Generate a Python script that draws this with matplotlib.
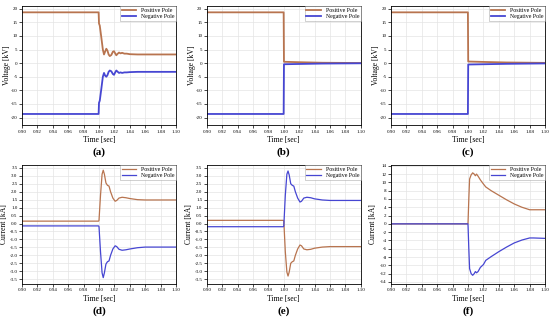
import matplotlib
matplotlib.use("Agg")
from matplotlib import pyplot as plt
import numpy as np

plt.rcParams["font.family"] = ["Liberation Serif", "DejaVu Serif"]

POS_COLOR = "#b8744f"
NEG_COLOR = "#4646d2"

# (a) voltage, pole-to-pole fault with recovery
t_a = [0.90, 0.9995, 1.0, 1.001, 1.003, 1.005, 1.0065, 1.008, 1.0095, 1.011, 1.0125,
       1.014, 1.016, 1.018, 1.0195, 1.021, 1.0225, 1.024, 1.026, 1.028, 1.030, 1.033,
       1.036, 1.040, 1.050, 1.10]
pos_a = [18.7, 18.7, 14.6, 13.8, 9.5, 5.0, 3.2, 4.3, 5.3, 4.6, 3.2,
         2.6, 3.0, 4.2, 4.4, 3.6, 2.9, 3.4, 3.9, 3.6, 3.8, 3.5,
         3.5, 3.3, 3.2, 3.2]
neg_a = [-18.7, -18.7, -14.6, -13.8, -9.5, -5.0, -3.6, -4.6, -5.0, -4.4, -3.2,
         -2.7, -3.0, -4.0, -4.3, -3.4, -2.7, -3.1, -3.6, -3.4, -3.6, -3.4,
         -3.4, -3.3, -3.2, -3.2]

# (b) voltage
t_b = [0.90, 0.9998, 1.0002, 1.02, 1.05, 1.10]
pos_b = [18.7, 18.7, 0.5, 0.35, 0.15, 0.05]
neg_b = [-18.7, -18.7, -0.4, -0.3, -0.15, -0.05]

# (c) voltage
t_c = [0.90, 0.9998, 1.0002, 1.02, 1.05, 1.10]
pos_c = [18.7, 18.7, 0.6, 0.45, 0.25, 0.1]
neg_c = [-18.7, -18.7, -0.5, -0.4, -0.25, -0.1]

# (d) current
t_d = [0.90, 0.9995, 1.0, 1.002, 1.004, 1.0055, 1.007, 1.009, 1.011, 1.013, 1.015,
       1.018, 1.021, 1.023, 1.026, 1.030, 1.035, 1.040, 1.050, 1.060, 1.10]
pos_d = [0.15, 0.15, 0.2, 1.8, 3.1, 3.35, 3.1, 2.55, 2.4, 2.35, 2.0,
         1.6, 1.4, 1.45, 1.6, 1.65, 1.62, 1.57, 1.5, 1.48, 1.48]
neg_d = [-0.15, -0.15, -0.2, -1.8, -3.1, -3.4, -3.1, -2.55, -2.4, -2.35, -2.0,
         -1.6, -1.4, -1.45, -1.62, -1.68, -1.65, -1.6, -1.52, -1.48, -1.48]

# (e) current
t_e = [0.90, 0.9995, 1.0, 1.002, 1.004, 1.0055, 1.007, 1.009, 1.011, 1.013, 1.015,
       1.018, 1.021, 1.023, 1.026, 1.030, 1.035, 1.040, 1.050, 1.060, 1.10]
pos_e = [0.2, 0.2, 0.15, -1.8, -3.05, -3.3, -3.05, -2.5, -2.4, -2.35, -2.0,
         -1.6, -1.35, -1.4, -1.6, -1.65, -1.62, -1.55, -1.48, -1.45, -1.45]
neg_e = [-0.2, -0.2, -0.15, 1.8, 3.1, 3.3, 3.05, 2.5, 2.4, 2.35, 2.0,
         1.6, 1.35, 1.4, 1.6, 1.65, 1.62, 1.55, 1.48, 1.45, 1.45]

# (f) current
t_f = [0.90, 0.9998, 1.0, 1.001, 1.002, 1.004, 1.006, 1.008, 1.0095, 1.011, 1.013,
       1.016, 1.020, 1.023, 1.030, 1.040, 1.050, 1.060, 1.070, 1.080, 1.085, 1.10]
pos_f = [0.0, 0.0, 0.5, 6.0, 10.8, 11.8, 12.3, 12.0, 11.6, 12.0, 11.5,
         10.6, 9.6, 8.9, 8.0, 6.9, 5.8, 4.8, 4.0, 3.4, 3.4, 3.4]
neg_f = [0.0, 0.0, -0.5, -6.0, -10.8, -12.0, -12.4, -12.0, -11.5, -11.8, -11.5,
         -10.5, -9.8, -8.8, -7.9, -6.7, -5.6, -4.6, -3.9, -3.4, -3.4, -3.5]

panels = [
    ("(a)", t_a, pos_a, neg_a, "Voltage [kV]", (-22.8, 21.0), np.arange(-20, 21, 5), 1.3),
    ("(b)", t_b, pos_b, neg_b, "Voltage [kV]", (-22.8, 21.0), np.arange(-20, 21, 5), 1.3),
    ("(c)", t_c, pos_c, neg_c, "Voltage [kV]", (-22.8, 21.0), np.arange(-20, 21, 5), 1.3),
    ("(d)", t_d, pos_d, neg_d, "Current [kA]", (-3.8, 3.68), np.arange(-3.5, 3.6, 0.5), 0.9),
    ("(e)", t_e, pos_e, neg_e, "Current [kA]", (-3.8, 3.68), np.arange(-3.5, 3.6, 0.5), 0.9),
    ("(f)", t_f, pos_f, neg_f, "Current [kA]", (-14.5, 14.2), np.arange(-14, 15, 2), 0.9),
]

lefts = [0.040, 0.376, 0.711]
fig = plt.figure(figsize=(5.5, 3.2), dpi=100)
for i, (tag, t, pos, neg, ylabel, ylim, yticks, lw) in enumerate(panels):
    row, col = divmod(i, 3)
    bottom = 0.609 if row == 0 else 0.1125
    ax = fig.add_axes([lefts[col], bottom, 0.280, 0.372])
    ax.plot(t, pos, color=POS_COLOR, lw=lw, label="Positive Pole")
    ax.plot(t, neg, color=NEG_COLOR, lw=lw, label="Negative Pole")
    ax.set_xlim(0.90, 1.10)
    ax.set_ylim(*ylim)
    ax.set_xticks(np.arange(0.90, 1.101, 0.02))
    ax.set_xticklabels([f"{v:.2f}" for v in np.arange(0.90, 1.101, 0.02)])
    ax.set_yticks(yticks)
    if ylabel.startswith("Voltage") or tag == "(f)":
        ax.set_yticklabels([f"{v:d}" for v in yticks])
    else:
        ax.set_yticklabels([f"{v:.1f}" for v in yticks])
    ax.tick_params(labelsize=3.6, length=2, width=0.5, pad=1.2)
    ax.grid(True, color="#e4e4e4", lw=0.5)
    ax.set_axisbelow(True)
    for s in ax.spines.values():
        s.set_linewidth(0.6)
    ax.set_xlabel("Time [sec]", fontsize=5.5, labelpad=2)
    ax.set_ylabel(ylabel, fontsize=5.5)
    # label just left of the tick labels, as in the reference
    ax.yaxis.set_label_coords(-0.07 if row == 0 else -0.09, 0.5)
    leg = ax.legend(loc="upper right", fontsize=4.2, frameon=True, fancybox=False,
                    borderpad=0.3, handlelength=2.5, labelspacing=0.2,
                    borderaxespad=0.0)
    leg.get_frame().set_linewidth(0.4)
    leg.get_frame().set_edgecolor("#999999")
    cx = lefts[col] + 0.140
    cy = 0.525 if row == 0 else 0.028
    fig.text(cx, cy, tag, ha="center", va="center", fontsize=8, fontweight="bold")

fig.savefig("out.png", dpi=100)
